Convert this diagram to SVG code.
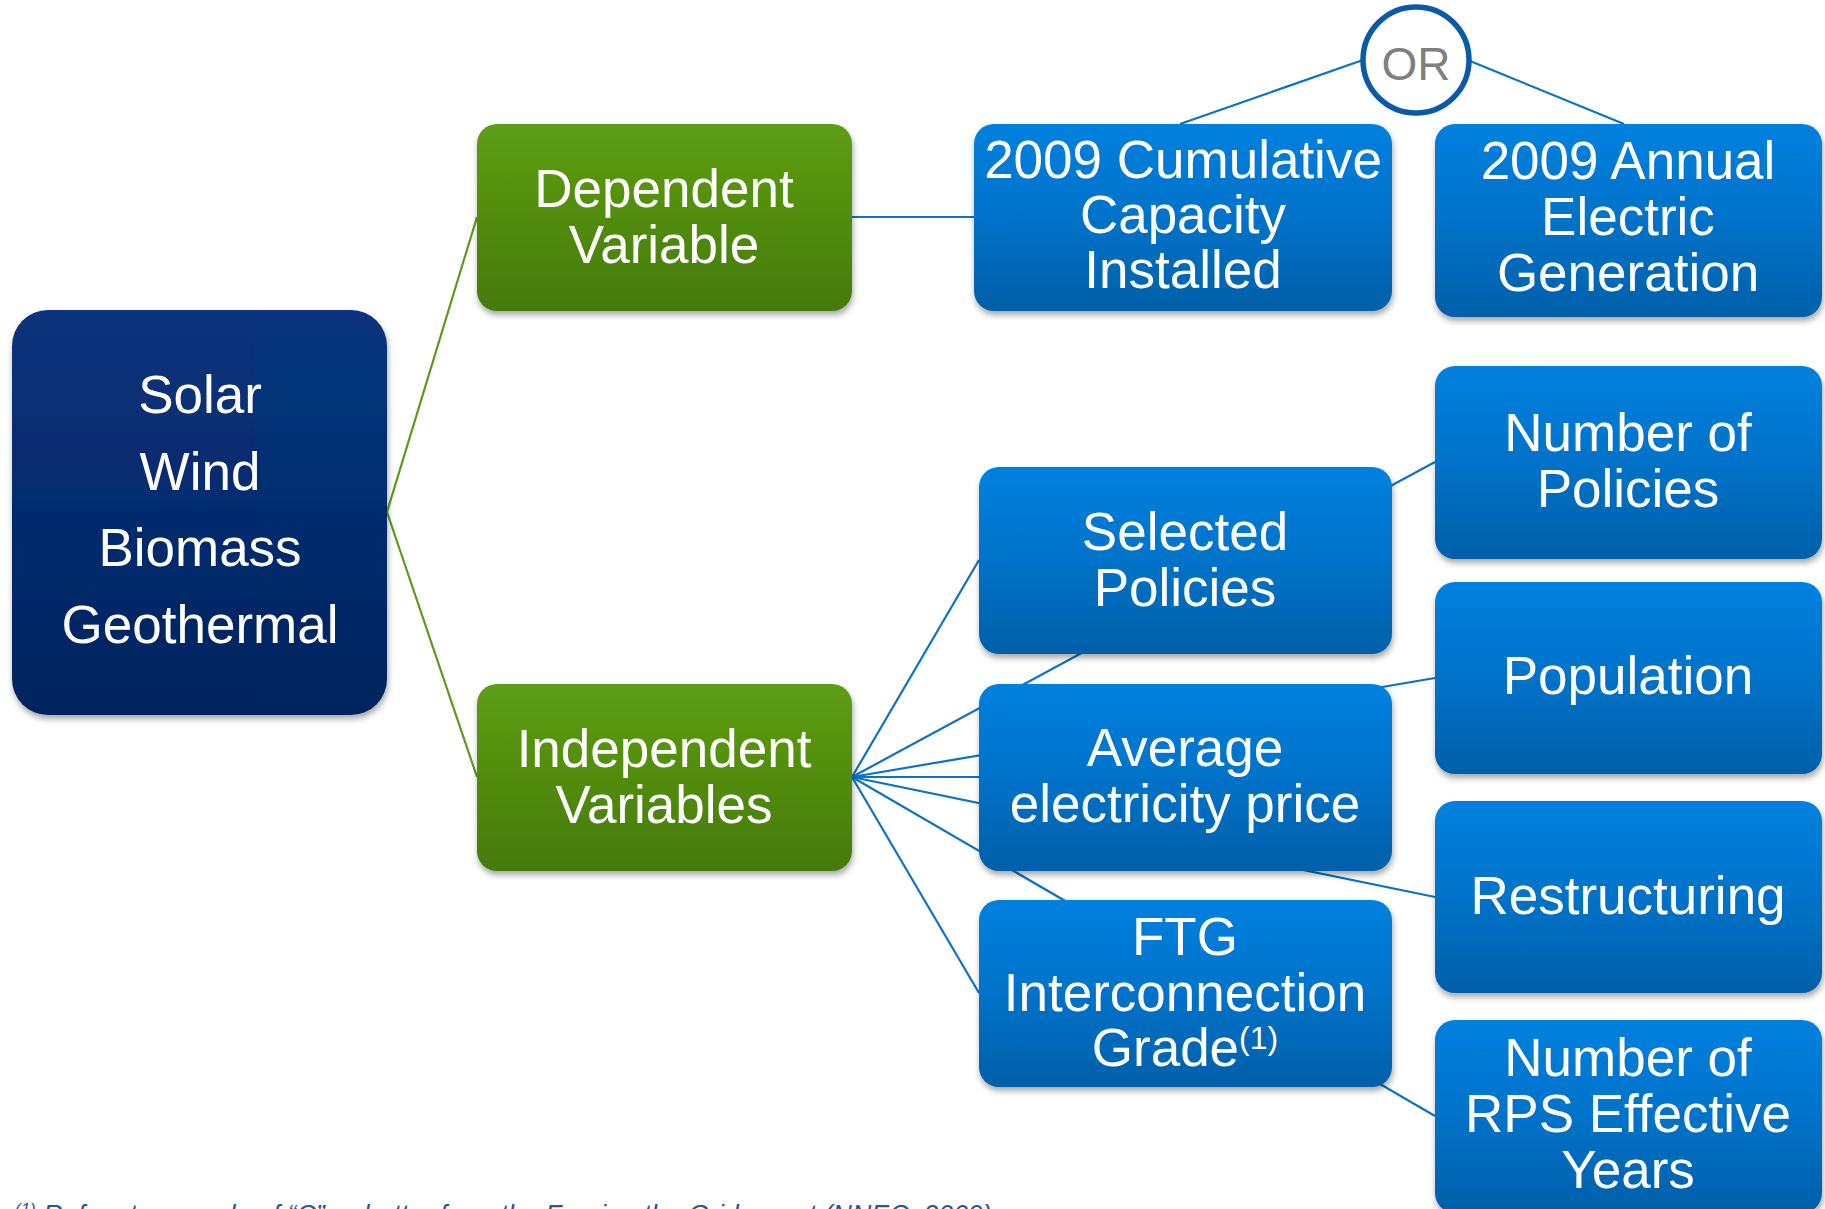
<svg xmlns="http://www.w3.org/2000/svg" width="1825" height="1209" viewBox="0 0 1825 1209">
  <style>
    .lbl { font-family: "Liberation Sans", Arial, sans-serif; font-size: 53px; fill: #ffffff; text-anchor: middle; }
    .sup { font-size: 32px; }
    .blue { fill: url(#gBlue); filter: url(#shadow); }
    .green { fill: url(#gGreen); filter: url(#shadow); }
    .navy { fill: url(#gNavy); filter: url(#shadow); }
    .ln { stroke: #0b72c4; stroke-width: 2.2; fill: none; }
    .lg { stroke: #5a9a1c; stroke-width: 2.2; fill: none; }
    .note { font-family: "Liberation Sans", Arial, sans-serif; font-style: italic; font-size: 26.8px; fill: #1c5aa6; }
  </style>
  <defs>
    <linearGradient id="gBlue" x1="0" y1="0" x2="0" y2="1">
      <stop offset="0" stop-color="#0181df"/>
      <stop offset="0.5" stop-color="#0172c9"/>
      <stop offset="1" stop-color="#0460a9"/>
    </linearGradient>
    <linearGradient id="gGreen" x1="0" y1="0" x2="0" y2="1">
      <stop offset="0" stop-color="#5d9e13"/>
      <stop offset="1" stop-color="#467a0c"/>
    </linearGradient>
    <linearGradient id="gNavy" x1="0" y1="0" x2="0" y2="1">
      <stop offset="0" stop-color="#07347e"/>
      <stop offset="1" stop-color="#05245e"/>
    </linearGradient>
    <filter id="shadow" x="-10%" y="-10%" width="120%" height="130%">
      <feDropShadow dx="1" dy="4" stdDeviation="3" flood-color="#000000" flood-opacity="0.35"/>
    </filter>
  </defs>

  <rect width="1825" height="1209" fill="#ffffff"/>

  <!-- connectors -->
  <g id="connectors">
    <line class="lg" x1="387" y1="512" x2="477" y2="217"/>
    <line class="lg" x1="387" y1="512" x2="477" y2="777"/>
    <line class="ln" x1="852" y1="217" x2="974" y2="217"/>
    <line class="ln" x1="1180" y1="124" x2="1363" y2="60"/>
    <line class="ln" x1="1470" y1="61" x2="1624" y2="124"/>
    <line class="ln" x1="852" y1="777" x2="979" y2="560"/>
    <line class="ln" x1="852" y1="777" x2="979" y2="777"/>
    <line class="ln" x1="852" y1="777" x2="979" y2="993"/>
    <line class="ln" x1="852" y1="777" x2="1435" y2="462"/>
    <line class="ln" x1="852" y1="777" x2="1435" y2="678"/>
    <line class="ln" x1="852" y1="777" x2="1435" y2="897"/>
    <line class="ln" x1="852" y1="777" x2="1435" y2="1116"/>
  </g>

  <g id="or-gate">
    <circle cx="1416" cy="60" r="53" fill="#ffffff" stroke="#0a5aa8" stroke-width="5.5"/>
    <text x="1416" y="80" font-family="Liberation Sans, Arial, sans-serif" font-size="46" fill="#7f7f7f" text-anchor="middle">OR</text>
  </g>

  <g id="sources">
    <rect class="navy" x="12" y="310" width="375" height="405" rx="36"/>
    <text class="lbl" x="200" y="413">Solar</text>
    <text class="lbl" x="200" y="490">Wind</text>
    <text class="lbl" x="200" y="566">Biomass</text>
    <text class="lbl" x="200" y="643">Geothermal</text>
  </g>

  <g id="dependent">
    <rect class="green" x="477" y="124" width="375" height="187" rx="20"/>
    <text class="lbl" x="664" y="207">Dependent</text>
    <text class="lbl" x="664" y="263">Variable</text>
  </g>

  <g id="independent">
    <rect class="green" x="477" y="684" width="375" height="187" rx="20"/>
    <text class="lbl" x="664" y="767">Independent</text>
    <text class="lbl" x="664" y="823">Variables</text>
  </g>

  <g id="cumulative">
    <rect class="blue" x="974" y="124" width="418" height="187" rx="20"/>
    <text class="lbl" x="1183" y="178">2009 Cumulative</text>
    <text class="lbl" x="1183" y="233">Capacity</text>
    <text class="lbl" x="1183" y="288">Installed</text>
  </g>

  <g id="annual">
    <rect class="blue" x="1435" y="124" width="387" height="193" rx="20"/>
    <text class="lbl" x="1628" y="179">2009 Annual</text>
    <text class="lbl" x="1628" y="235">Electric</text>
    <text class="lbl" x="1628" y="291">Generation</text>
  </g>

  <g id="selected-policies">
    <rect class="blue" x="979" y="467" width="413" height="187" rx="20"/>
    <text class="lbl" x="1185" y="550">Selected</text>
    <text class="lbl" x="1185" y="606">Policies</text>
  </g>

  <g id="electricity-price">
    <rect class="blue" x="979" y="684" width="413" height="187" rx="20"/>
    <text class="lbl" x="1185" y="766">Average</text>
    <text class="lbl" x="1185" y="822">electricity price</text>
  </g>

  <g id="ftg-grade">
    <rect class="blue" x="979" y="900" width="413" height="187" rx="20"/>
    <text class="lbl" x="1185" y="955">FTG</text>
    <text class="lbl" x="1185" y="1011">Interconnection</text>
    <text class="lbl" x="1185" y="1066">Grade<tspan class="sup" dy="-17">(1)</tspan></text>
  </g>

  <g id="number-of-policies">
    <rect class="blue" x="1435" y="366" width="387" height="193" rx="20"/>
    <text class="lbl" x="1628" y="451">Number of</text>
    <text class="lbl" x="1628" y="507">Policies</text>
  </g>

  <g id="population">
    <rect class="blue" x="1435" y="582" width="387" height="192" rx="20"/>
    <text class="lbl" x="1628" y="694">Population</text>
  </g>

  <g id="restructuring">
    <rect class="blue" x="1435" y="801" width="387" height="192" rx="20"/>
    <text class="lbl" x="1628" y="914">Restructuring</text>
  </g>

  <g id="rps-years">
    <rect class="blue" x="1435" y="1020" width="387" height="193" rx="20"/>
    <text class="lbl" x="1628" y="1076">Number of</text>
    <text class="lbl" x="1628" y="1132">RPS Effective</text>
    <text class="lbl" x="1628" y="1188">Years</text>
  </g>

  <g id="footnote">
    <text class="note" x="15" y="1224"><tspan font-size="17" dy="-9">(1)</tspan><tspan dy="9"> Refers to a grade of “C” or better from the Freeing the Grid report (NNEC, 2009)</tspan></text>
  </g>
</svg>
